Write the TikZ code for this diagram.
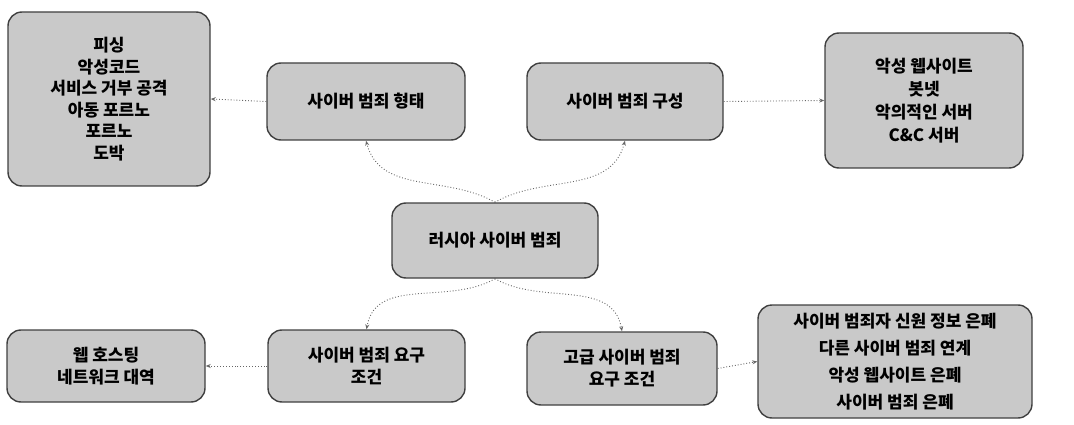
\documentclass[tikz,border=0pt]{standalone}
\usepackage{fontspec}
\newfontfamily\kr{Noto Sans CJK KR}
\usetikzlibrary{arrows.meta}
\tikzset{
  box/.style={draw=black!75, line width=1.4pt, fill=gray!42, rounded corners=14pt,
    align=center, font=\kr\bfseries\fontsize{17}{22}\selectfont, inner sep=2pt},
  conn/.style={draw=black!60, dotted, line width=0.9pt, -{Stealth[length=5pt,width=4pt]}}
}
\begin{document}
\begin{tikzpicture}[x=1pt,y=-1pt]
\useasboundingbox (0,0) rectangle (1074,425);
\node[box, minimum width=202pt, minimum height=174pt, font=\kr\bfseries\fontsize{17}{21.5}\selectfont] (tl) at (109,99)
  {피싱\\악성코드\\서비스 거부 공격\\아동 포르노\\포르노\\도박};
\node[box, minimum width=198pt, minimum height=77pt] (form) at (366,101.5) {사이버 범죄 형태};
\node[box, minimum width=196pt, minimum height=77pt] (comp) at (625,101.5) {사이버 범죄 구성};
\node[box, minimum width=198pt, minimum height=135pt, font=\kr\bfseries\fontsize{17}{23}\selectfont] (tr) at (924,100.5)
  {악성 웹사이트\\봇넷\\악의적인 서버\\C\&C 서버};
\node[box, minimum width=206pt, minimum height=75pt] (ctr) at (495,240.5) {러시아 사이버 범죄};
\node[box, minimum width=198pt, minimum height=72pt] (web) at (106,366) {웹 호스팅\\네트워크 대역};
\node[box, minimum width=197pt, minimum height=72pt] (req) at (366.5,366) {사이버 범죄 요구\\조건};
\node[box, minimum width=190pt, minimum height=73pt] (adv) at (622,368.5) {고급 사이버 범죄\\요구 조건};
\node[box, minimum width=274pt, minimum height=113pt, font=\kr\bfseries\fontsize{17}{27}\selectfont] (br) at (895,361.5)
  {사이버 범죄자 신원 정보 은폐\\다른 사이버 범죄 연계\\악성 웹사이트 은폐\\사이버 범죄 은폐};
\draw[conn] (form.west) -- (tl.east);
\draw[conn] (comp.east) -- (tr.west);
\draw[conn] (req.west) -- (web.east);
\draw[conn] (adv.east) -- (br.west);
\draw[conn] (ctr.north) to[out=150,in=-75] (form.south);
\draw[conn] (ctr.north) to[out=30,in=-105] (comp.south);
\draw[conn] (ctr.south) to[out=-150,in=80] (req.north);
\draw[conn] (ctr.south) to[out=-30,in=100] (adv.north);
\end{tikzpicture}
\end{document}
